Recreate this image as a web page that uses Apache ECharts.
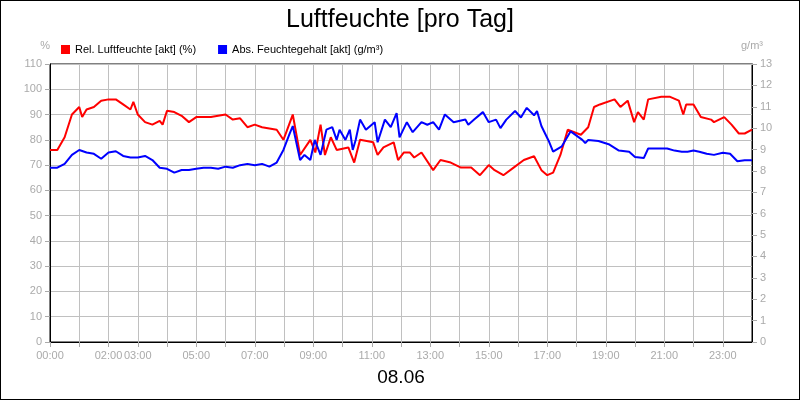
<!DOCTYPE html>
<html>
<head>
<meta charset="utf-8">
<script src="https://cdn.jsdelivr.net/npm/echarts@6/dist/echarts.min.js"></script>
<style>
  html, body { margin: 0; padding: 0; background: #fff; }
  #chart { width: 798px; height: 398px; border: 1px solid #000; }
</style>
</head>
<body>
<div id="chart"></div>
<script>
// hour of day -> rel. humidity (%)
const relHumidity = [
  [0,76],[0.25,76],[0.5,81],[0.75,90],[1,93],[1.1,89],[1.25,92],[1.5,93],[1.75,95.5],[2,96],[2.25,96],[2.5,94],[2.75,92],[2.85,95],
  [3,90],[3.25,87],[3.5,86],[3.75,87.5],[3.85,86],[4,91.5],[4.25,91],[4.5,89.5],[4.75,87],[5,89],[5.25,89],[5.5,89],[5.75,89.5],
  [6,90],[6.25,88],[6.5,88.5],[6.75,85],[7,86],[7.25,85],[7.5,84.5],[7.75,84],[7.98,80],[8.3,90],[8.55,74],[8.9,80],[9.07,75],
  [9.25,86],[9.4,74],[9.6,81],[9.8,76],[10.2,77],[10.4,71],[10.6,80],[11.05,79],[11.2,74],[11.4,77],[11.75,79],[11.9,72],
  [12.1,75],[12.3,75],[12.45,73],[12.7,75],[13.1,68],[13.35,72],[13.7,71],[14.05,69],[14.4,69],[14.7,66],[15,70],[15.2,68],
  [15.5,66],[15.85,69],[16.2,72],[16.55,73.5],[16.8,68],[17,66],[17.2,67],[17.45,74],[17.7,84],[18.15,82],[18.4,85],[18.6,93],
  [18.8,94],[19.3,96],[19.5,93],[19.75,95.5],[19.97,87],[20.1,91],[20.3,88],[20.45,96],[20.9,97],[21.2,97],[21.5,95.5],
  [21.65,90],[21.75,94],[22,94],[22.25,89],[22.6,88],[22.7,87],[23.05,89],[23.3,86],[23.55,82.5],[23.75,82.5],[24,84]
];
// hour of day -> abs. moisture content (g/m³)
const absMoisture = [
  [0,8.15],[0.25,8.15],[0.5,8.33],[0.75,8.75],[1,8.98],[1.25,8.86],[1.5,8.8],[1.75,8.57],[2,8.86],[2.25,8.92],[2.5,8.7],
  [2.75,8.63],[3,8.63],[3.25,8.7],[3.5,8.51],[3.75,8.15],[4,8.1],[4.25,7.92],[4.5,8.04],[4.75,8.04],[5,8.1],[5.25,8.15],
  [5.5,8.15],[5.75,8.1],[6,8.2],[6.25,8.15],[6.5,8.27],[6.75,8.33],[7,8.27],[7.25,8.33],[7.5,8.2],[7.75,8.39],[7.98,8.98],
  [8.2,9.77],[8.3,10.1],[8.55,8.51],[8.7,8.75],[8.9,8.51],[9.05,9.45],[9.25,8.75],[9.45,9.93],[9.65,10.05],[9.8,9.45],
  [9.9,9.93],[10.1,9.45],[10.25,9.93],[10.35,8.98],[10.45,9.45],[10.6,10.4],[10.8,9.93],[11.1,10.28],[11.2,9.34],[11.45,10.4],
  [11.65,10.05],[11.85,10.7],[11.95,9.57],[12.2,10.28],[12.4,9.81],[12.7,10.28],[12.9,10.16],[13.1,10.28],[13.3,9.93],
  [13.5,10.64],[13.8,10.28],[14.2,10.4],[14.3,10.16],[14.5,10.4],[14.8,10.75],[15,10.28],[15.25,10.4],[15.4,10.0],[15.6,10.4],
  [15.9,10.8],[16.1,10.5],[16.3,10.95],[16.55,10.6],[16.65,10.8],[16.8,10.1],[17.05,9.4],[17.2,8.9],[17.5,9.15],[17.8,9.85],
  [18.2,9.45],[18.3,9.3],[18.4,9.45],[18.75,9.4],[19.1,9.25],[19.45,8.95],[19.8,8.9],[20,8.65],[20.3,8.6],[20.45,9.05],
  [20.8,9.05],[21.1,9.05],[21.35,8.95],[21.6,8.9],[21.8,8.9],[22,8.95],[22.2,8.9],[22.45,8.8],[22.7,8.75],[23,8.85],
  [23.25,8.8],[23.5,8.45],[23.75,8.5],[24,8.5]
];
const labeledHours = [0, 2, 3, 5, 7, 9, 11, 13, 15, 17, 19, 21, 23];
const seriesNames = ['Rel. Luftfeuchte [akt] (%)', 'Abs. Feuchtegehalt [akt] (g/m³)'];

const font = 'Liberation Sans, Arial, sans-serif';
const gray = '#aaaaaa';
const chart = echarts.init(document.getElementById('chart'));
chart.setOption({
  animation: false,
  textStyle: { fontFamily: font },
  title: {
    text: 'Luftfeuchte [pro Tag]', left: 'center', top: 2,
    textStyle: { fontSize: 25, fontWeight: 'normal', color: '#000', fontFamily: font }
  },
  legend: {
    left: 55, top: 38, itemWidth: 9, itemHeight: 9, itemGap: 22, icon: 'rect',
    textStyle: { fontSize: 11, color: '#000' },
    data: seriesNames
  },
  grid: { left: 49, right: 47, top: 63, bottom: 57, show: true, borderColor: '#000', borderWidth: 1 },
  xAxis: {
    type: 'value', min: 0, max: 24, interval: 1,
    name: '08.06', nameLocation: 'middle', nameGap: 26,
    nameTextStyle: { fontSize: 19, color: '#000' },
    axisLine: { lineStyle: { color: '#000' } },
    axisTick: { lineStyle: { color: gray } },
    axisLabel: {
      color: gray, fontSize: 11, showMaxLabel: false,
      formatter: v => labeledHours.includes(v) ? String(v).padStart(2, '0') + ':00' : ''
    },
    splitLine: { lineStyle: { color: '#c0c0c0' } }
  },
  yAxis: [
    {
      type: 'value', min: 0, max: 110, interval: 10, name: '%',
      nameTextStyle: { color: gray, fontSize: 11, align: 'right', padding: [0, 0, -2, 0] },
      axisLine: { show: true, lineStyle: { color: '#000' } },
      axisTick: { show: true, lineStyle: { color: gray } },
      axisLabel: { color: gray, fontSize: 11 },
      splitLine: { lineStyle: { color: '#c0c0c0' } }
    },
    {
      type: 'value', min: 0, max: 13, interval: 1, name: 'g/m³',
      nameTextStyle: { color: gray, fontSize: 11, padding: [0, 0, -2, 0] },
      axisLine: { show: true, lineStyle: { color: '#000' } },
      axisTick: { show: true, lineStyle: { color: gray } },
      axisLabel: { color: gray, fontSize: 11 },
      splitLine: { show: false }
    }
  ],
  series: [
    {
      name: seriesNames[0], type: 'line', yAxisIndex: 0, data: relHumidity,
      showSymbol: false, color: '#ff0000', lineStyle: { width: 2 }
    },
    {
      name: seriesNames[1], type: 'line', yAxisIndex: 1, data: absMoisture,
      showSymbol: false, color: '#0000ff', lineStyle: { width: 2 }
    }
  ]
});
</script>
</body>
</html>
